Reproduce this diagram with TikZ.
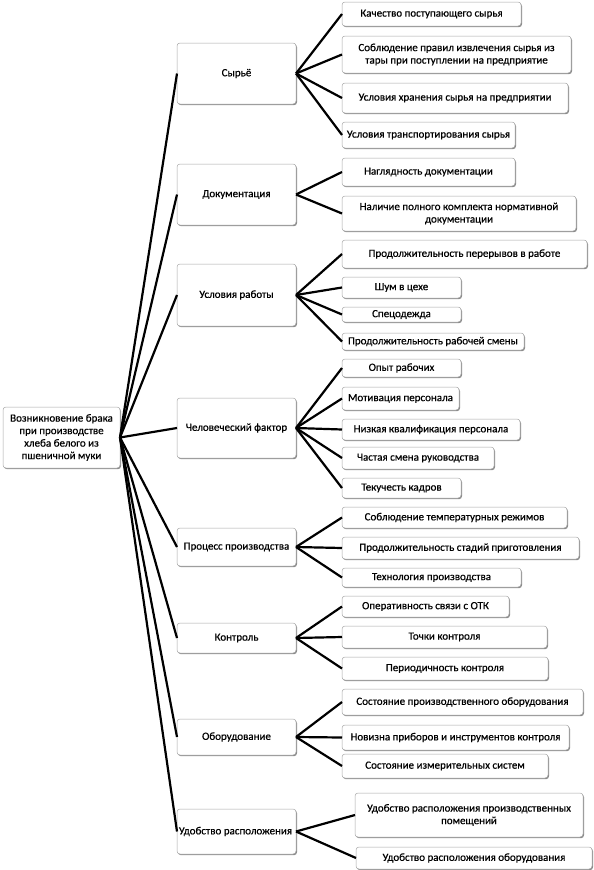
\documentclass[tikz,border=0pt]{standalone}
\usepackage{fontspec}
\setmainfont{Carlito}[FakeBold=0.5]
\usetikzlibrary{shadows}
\tikzset{
  box/.style={draw=black!35, line width=0.5pt, fill=white, rounded corners=3pt,
    inner sep=0pt, outer sep=0pt,
    drop shadow={shadow xshift=1pt, shadow yshift=-1.2pt, fill=black!45, opacity=1}},
  lbl/.style={inner sep=0pt, align=center, font=\fontsize{11}{12.5}\selectfont},
  conn/.style={line width=2.2pt, black}
}
\newcommand\mkbox[6]{\node[box, minimum width={(#4-#2)*1pt}, minimum height={(#5-#3)*1pt}]
  (#1) at ({(#2+#4)/2},{(#3+#5)/2}) {};
  \node[lbl] (#1t) at (#1.center) {#6};}
\begin{document}
\begin{tikzpicture}[x=1pt,y=-1pt]
\useasboundingbox (0,0) rectangle (594,870);
% root
\mkbox{root}{3}{407}{120}{468}{Возникновение брака\\при производстве\\хлеба белого из\\пшеничной муки}
% categories
\mkbox{c1}{177}{43}{296}{104}{Сырьё}
\mkbox{c2}{177}{164}{296}{225}{Документация}
\mkbox{c3}{177}{264}{296}{326}{Условия работы}
\mkbox{c4}{177}{398}{296}{458}{Человеческий фактор}
\mkbox{c5}{177}{528}{296}{566}{Процесс производства}
\mkbox{c6}{177}{623}{296}{653}{Контроль}
\mkbox{c7}{177}{719}{296}{755}{Оборудование}
\mkbox{c8}{177}{809}{296}{854}{\hspace*{-2pt}Удобство расположения}
% leaves
\mkbox{s1}{342}{2}{521}{26}{Качество поступающего сырья}
\mkbox{s2}{342}{36}{571}{73}{Соблюдение правил извлечения сырья из\\тары при поступлении на предприятие}
\mkbox{s3}{342}{83}{568}{113}{Условия хранения сырья на предприятии}
\mkbox{s4}{342}{122}{515}{148}{Условия транспортирования сырья}
\mkbox{d1}{342}{158}{515}{186}{Наглядность документации}
\mkbox{d2}{342}{196}{576}{231}{Наличие полного комплекта нормативной\\документации}
\mkbox{u1}{342}{240}{587}{268}{Продолжительность перерывов в работе}
\mkbox{u2}{342}{277}{461}{298}{Шум в цехе}
\mkbox{u3}{342}{307}{461}{322}{Спецодежда}
\mkbox{u4}{342}{333}{524}{350}{Продолжительность рабочей смены}
\mkbox{h1}{342}{359}{461}{377}{Опыт рабочих}
\mkbox{h2}{342}{387}{459}{410}{Мотивация персонала}
\mkbox{h3}{342}{419}{520}{440}{Низкая квалификация персонала}
\mkbox{h4}{342}{447}{494}{469}{Частая смена руководства}
\mkbox{h5}{342}{478}{461}{498}{Текучесть кадров}
\mkbox{p1}{342}{507}{567}{528}{Соблюдение температурных режимов}
\mkbox{p2}{342}{537}{579}{559}{Продолжительность стадий приготовления}
\mkbox{p3}{342}{568}{521}{587}{Технология производства}
\mkbox{k1}{342}{596}{509}{617}{Оперативность связи с ОТК}
\mkbox{k2}{342}{626}{547}{648}{Точки контроля}
\mkbox{k3}{342}{657}{548}{680}{Периодичность контроля}
\mkbox{o1}{342}{689}{583}{715}{Состояние производственного оборудования}
\mkbox{o2}{342}{725}{569}{750}{Новизна приборов и инструментов контроля}
\mkbox{o3}{342}{754}{548}{778}{Состояние измерительных систем}
\mkbox{y1}{355}{793}{583}{837}{Удобство расположения производственных\\помещений}
\mkbox{y2}{356}{847}{592}{869}{Удобство расположения оборудования}
% connectors
\foreach \c in {c1,c2,c3,c4,c5,c6,c7,c8} \draw[conn] (root.east) -- (\c.west);
\foreach \l in {s1,s2,s3,s4} \draw[conn] (c1.east) -- (\l.west);
\foreach \l in {d1,d2} \draw[conn] (c2.east) -- (\l.west);
\foreach \l in {u1,u2,u3,u4} \draw[conn] (c3.east) -- (\l.west);
\foreach \l in {h1,h2,h3,h4,h5} \draw[conn] (c4.east) -- (\l.west);
\foreach \l in {p1,p2,p3} \draw[conn] (c5.east) -- (\l.west);
\foreach \l in {k1,k2,k3} \draw[conn] (c6.east) -- (\l.west);
\foreach \l in {o1,o2,o3} \draw[conn] (c7.east) -- (\l.west);
\foreach \l in {y1,y2} \draw[conn] (c8.east) -- (\l.west);
\end{tikzpicture}
\end{document}
